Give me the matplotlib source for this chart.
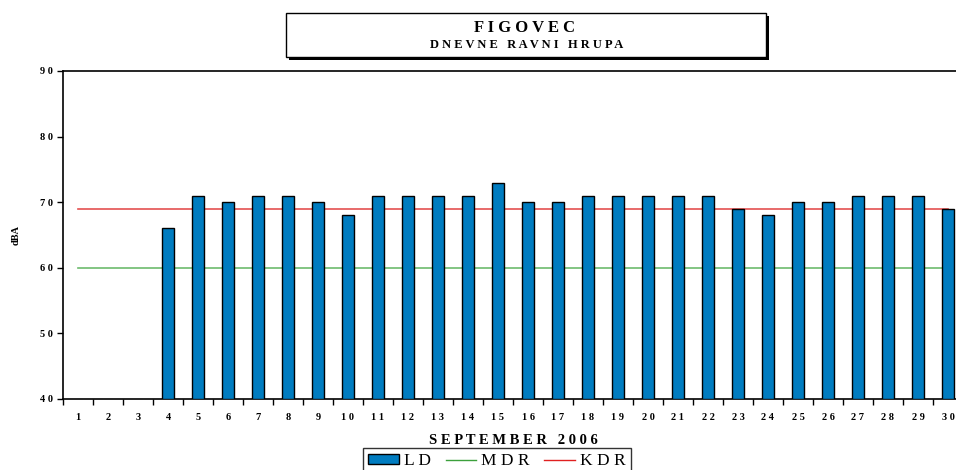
import numpy as np
import matplotlib.pyplot as plt
from matplotlib.patches import Rectangle, Patch
from matplotlib.lines import Line2D

# daily noise levels, September 2006 (days 1-3 have no data)
days = list(range(1, 31))
ld = [np.nan, np.nan, np.nan, 66, 71, 70, 71, 71, 70, 68,
      71, 71, 71, 71, 73, 70, 70, 71, 71, 71,
      71, 71, 69, 68, 70, 70, 71, 71, 71, 69]
mdr = 60
kdr = 69
yticks = [40, 50, 60, 70, 80, 90]

plt.rcParams['font.family'] = ['Liberation Serif', 'DejaVu Serif']

fig = plt.figure(figsize=(9.56, 4.70), dpi=100)
ax = fig.add_axes([63 / 956, 71 / 470, 900 / 956, 328 / 470])

x = np.array(days)
vals = np.array(ld, dtype=float)
mask = ~np.isnan(vals)
ax.bar(x[mask], vals[mask] - 40, bottom=40, width=0.43,
       color='#007CC0', edgecolor='black', linewidth=1.0, zorder=3)
ax.plot([x[0], x[-1]], [mdr, mdr], color='#6DBB6D', lw=1.2, zorder=2)
ax.plot([x[0], x[-1]], [kdr, kdr], color='#E45050', lw=1.2, zorder=2)

ax.set_xlim(0.5, 30.5)
ax.set_ylim(40, 90)
ax.set_yticks(yticks)
ax.set_yticklabels([' '.join(str(v)) for v in yticks], fontsize=7.5, fontweight='bold')
ax.set_xticks(np.arange(0.5, 31, 1))
ax.set_xticklabels([])
ax.set_xticks(x, minor=True)
ax.set_xticklabels([' '.join(str(d)) for d in days], minor=True,
                   fontsize=7.5, fontweight='bold')
ax.tick_params(axis='x', which='major', length=4, width=1, direction='out')
ax.tick_params(axis='x', which='minor', length=0, pad=10)
ax.tick_params(axis='y', length=4, width=1, direction='out', pad=3)
for s in ['left', 'bottom', 'top']:
    ax.spines[s].set_linewidth(1.2)
ax.spines['right'].set_visible(False)

fig.text(16 / 956, 1 - 235 / 470, 'dBA', rotation=90, ha='center', va='center',
         fontsize=7.5, fontweight='bold')
fig.text(513 / 956, 1 - 440 / 470, 'S E P T E M B E R   2 0 0 6', ha='center',
         va='center', fontsize=10.5, fontweight='bold')

# title box with shadow
fig.patches.append(Rectangle((289 / 956, 1 - 60 / 470), 480 / 956, 44 / 470,
                             transform=fig.transFigure, facecolor='black',
                             edgecolor='none', zorder=0))
fig.patches.append(Rectangle((286 / 956, 1 - 57 / 470), 480 / 956, 44 / 470,
                             transform=fig.transFigure, facecolor='white',
                             edgecolor='black', linewidth=1, zorder=1))
fig.text(524 / 956, 1 - 28 / 470, 'F I G O V E C', ha='center', va='center',
         fontsize=12, fontweight='bold', zorder=2)
fig.text(527 / 956, 1 - 45 / 470, 'D N E V N E   R A V N I   H R U P A',
         ha='center', va='center', fontsize=9, fontweight='bold', zorder=2)

handles = [Patch(facecolor='#007CC0', edgecolor='black', label='L D'),
           Line2D([], [], color='#3CA03C', lw=1, label='M D R'),
           Line2D([], [], color='#E02020', lw=1, label='K D R')]
leg = fig.legend(handles=handles, loc='upper left', ncol=3,
                 bbox_to_anchor=(363 / 956, 1 - 448 / 470), frameon=True,
                 fancybox=False, fontsize=12.5, handlelength=1.75,
                 handleheight=0.5, handletextpad=0.3, columnspacing=0.85,
                 borderpad=0.3, borderaxespad=0)
leg.get_frame().set_edgecolor('black')
leg.get_frame().set_linewidth(1)

fig.savefig('out.png', dpi=100)
